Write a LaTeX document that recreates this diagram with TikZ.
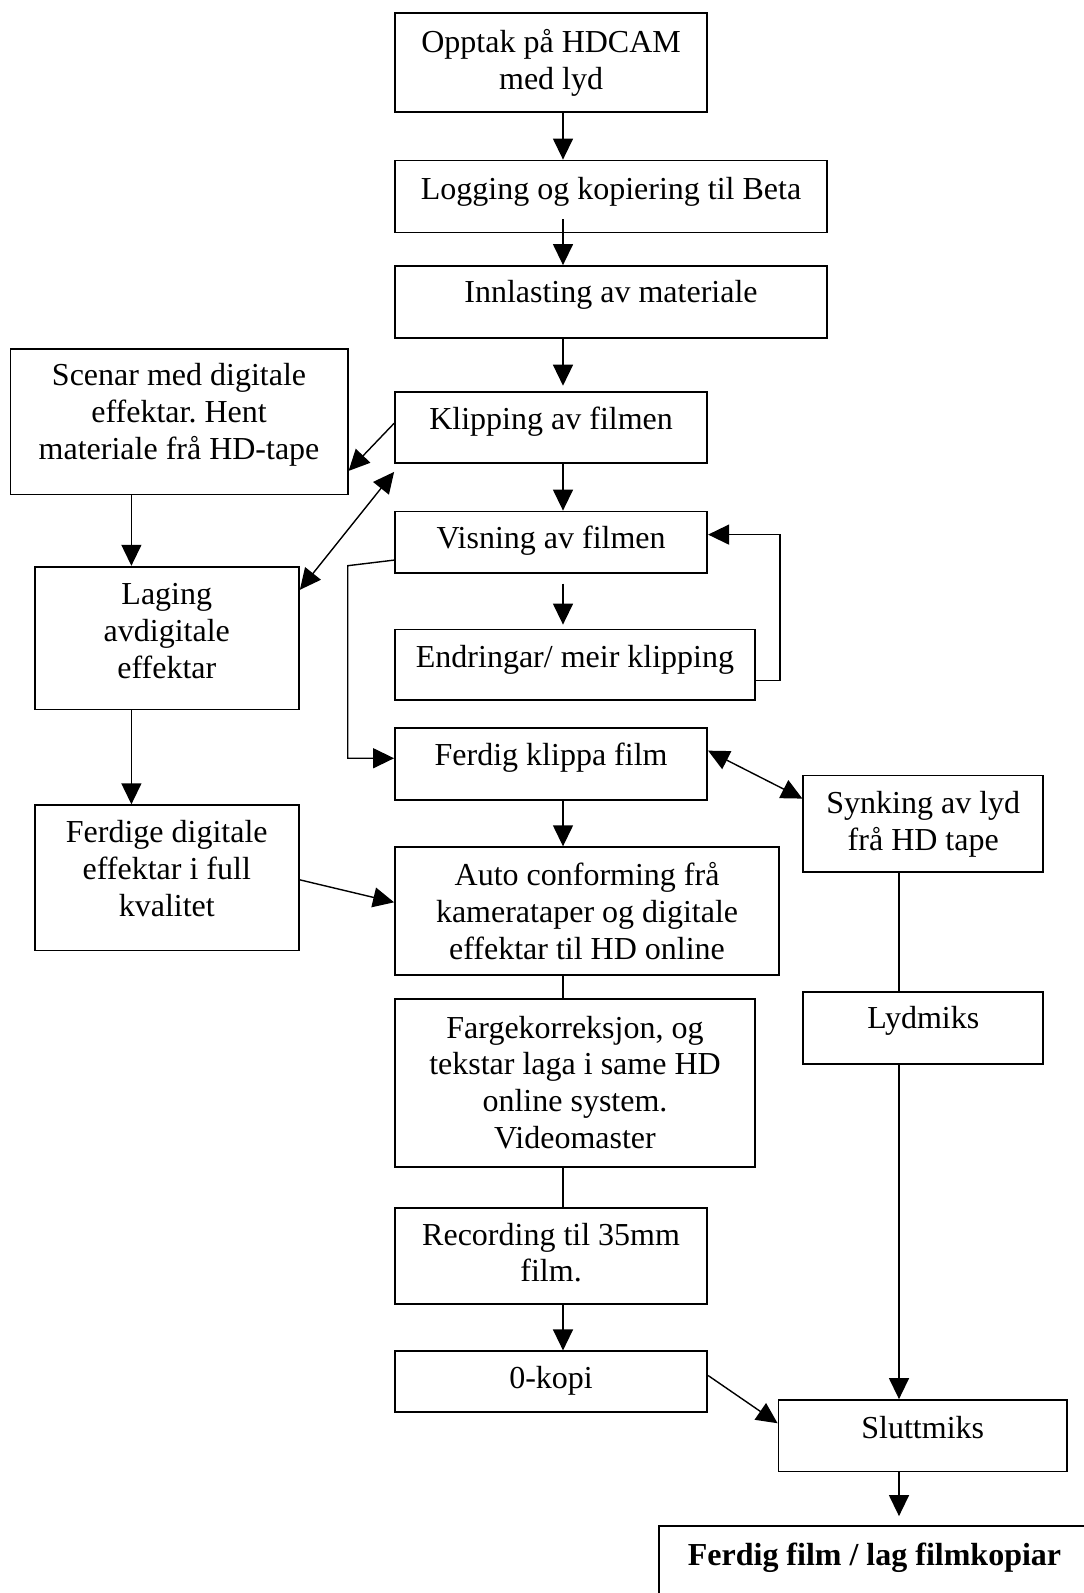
\documentclass[tikz,border=0pt]{standalone}
\usepackage{fontspec}
\setmainfont{Liberation Serif}
\usetikzlibrary{arrows.meta,calc,fit}
\newcommand{\diagfont}{\fontsize{32}{36.8}\selectfont\frenchspacing}
\newcommand{\diagbold}{\fontsize{32}{36.8}\bfseries\selectfont\frenchspacing}
\tikzset{
  box/.style={draw, line width=1.8pt, inner sep=0pt},
  txt/.style={inner sep=0pt, align=flush center, anchor=base, font=\diagfont},
  arr/.style={line width=1.4pt, -{Triangle[length=21pt,width=20pt]}},
  darr/.style={line width=1.4pt, {Triangle[length=21pt,width=20pt]}-{Triangle[length=21pt,width=20pt]}},
  ln/.style={line width=1.4pt}
}
\begin{document}
\begin{tikzpicture}[x=1pt,y=-1pt]
\useasboundingbox (0,0) rectangle (1084,1593);
\clip (0,0) rectangle (1084,1593);
\fill[white] (0,0) rectangle (1084,1593);
% column coordinates
\coordinate (xm) at (563,0);
\coordinate (xl) at (131.4,0);
\coordinate (xr) at (899,0);
% boxes
\node[box, fit={(395,13.3) (707.2,112)}] (op) {};
\node[box, fit={(395,160.5) (827,232.5)}] (log) {};
\node[box, fit={(395,266) (827,338)}] (inn) {};
\node[box, fit={(10.4,349) (347.7,494.5)}] (scen) {};
\node[box, fit={(395,391.6) (707.2,463)}] (klip) {};
\node[box, fit={(395,511.5) (707.2,572.7)}] (vis) {};
\node[box, fit={(395,629.5) (755,700)}] (endr) {};
\node[box, fit={(34.6,566.7) (299,709.4)}] (lag) {};
\node[box, fit={(395,727.7) (707.2,799.6)}] (fkl) {};
\node[box, fit={(803.3,775.5) (1043.2,872)}] (synk) {};
\node[box, fit={(34.6,805.2) (299,950.5)}] (fdig) {};
\node[box, fit={(395,847.2) (779.1,974.6)}] (auto) {};
\node[box, fit={(395,999) (755,1167)}] (farg) {};
\node[box, fit={(803.3,991.8) (1043.2,1064)}] (lyd) {};
\node[box, fit={(395,1207.6) (707.2,1303.8)}] (rec) {};
\node[box, fit={(395,1351.3) (707.2,1412.3)}] (kopi) {};
\node[box, fit={(778.5,1400) (1067,1471.5)}] (slutt) {};
\node[box, fit={(659,1526) (1090,1612)}] (ferd) {};
% texts
\node[txt, text width=312pt] (top) at ($(op.north)+(0,40)$) {Opptak på HDCAM\\med lyd};
\node[txt, text width=432pt] (tlog) at ($(log.north)+(0,39.5)$) {Logging og kopiering til Beta};
\node[txt, text width=432pt] (tinn) at ($(inn.north)+(0,37.5)$) {Innlasting av materiale};
\node[txt, text width=337pt] (tscen) at ($(scen.north)+(0,37.8)$) {Scenar med digitale\\effektar. Hent\\materiale frå HD-tape};
\node[txt, text width=312pt] (tklip) at ($(klip.north)+(0,39)$) {Klipping av filmen};
\node[txt, text width=312pt] (tvis) at ($(vis.north)+(0,38)$) {Visning av filmen};
\node[txt, text width=360pt] (tendr) at ($(endr.north)+(0,38.5)$) {Endringar/ meir klipping};
\node[txt, text width=264pt] (tlag) at ($(lag.north)+(0,39)$) {Laging\\avdigitale\\effektar};
\node[txt, text width=312pt] (tfkl) at ($(fkl.north)+(0,38.5)$) {Ferdig klippa film};
\node[txt, text width=240pt] (tsynk) at ($(synk.north)+(0,39)$) {Synking av lyd\\frå HD tape};
\node[txt, text width=264pt] (tfdig) at ($(fdig.north)+(0,38.5)$) {Ferdige digitale\\effektar i full\\kvalitet};
\node[txt, text width=384pt] (tauto) at ($(auto.north)+(0,39.5)$) {Auto conforming frå\\kamerataper og digitale\\effektar til HD online};
\node[txt, text width=360pt] (tfarg) at ($(farg.north)+(0,40)$) {Fargekorreksjon, og\\tekstar laga i same HD\\online system.\\Videomaster};
\node[txt, text width=240pt] (tlyd) at ($(lyd.north)+(0,38)$) {Lydmiks};
\node[txt, text width=312pt] (trec) at ($(rec.north)+(0,38.3)$) {Recording til 35mm\\film.};
\node[txt, text width=312pt] (tkopi) at ($(kopi.north)+(0,38.1)$) {0-kopi};
\node[txt, text width=288pt] (tslutt) at ($(slutt.north)+(0,39.8)$) {Sluttmiks};
\node[txt, text width=431pt, font=\diagbold] (tferd) at ($(ferd.north)+(0,40)$) {Ferdig film / lag filmkopiar};
% connectors
\draw[arr] (op.south -| xm) -- (log.north -| xm);
\draw[arr] ($(log.south -| xm)+(0,-14)$) -- (inn.north -| xm);
\draw[arr] (inn.south -| xm) -- ($(klip.north -| xm)+(0,-5)$);
\draw[arr] (klip.south -| xm) -- (vis.north -| xm);
\draw[arr] ($(vis.south -| xm)+(0,10)$) -- ($(endr.north -| xm)+(0,-4)$);
\draw[arr] ($(endr.south east)+(0,-20.5)$) -- ++(24,0) |- ($(vis.north east)+(0,24)$);
\draw[arr] ($(klip.west)+(0,-4)$) -- ($(scen.south east)+(0,-24.5)$);
\draw[darr] ($(lag.north east)+(0,24)$) -- ($(klip.south west)+(0,8)$);
\draw[arr] (scen.south -| xl) -- (lag.north -| xl);
\draw[arr] (lag.south -| xl) -- (fdig.north -| xl);
\coordinate (kb) at (347.7,565.7);
\draw[arr] ($(vis.west)+(0,18)$) -- (kb) |- ($(fkl.west)+(0,-5.4)$);
\draw[darr] ($(fkl.east)+(0,-13)$) -- ($(synk.north west)+(0,24)$);
\draw[arr] (fkl.south -| xm) -- (auto.north -| xm);
\draw[arr] ($(fdig.east)+(0,2)$) -- ($(auto.west)+(0,-8.6)$);
\draw[ln] (auto.south -| xm) -- (farg.north -| xm);
\draw[ln] (farg.south -| xm) -- (rec.north -| xm);
\draw[arr] (rec.south -| xm) -- (kopi.north -| xm);
\draw[arr] ($(kopi.east)+(0,-6.3)$) -- ($(slutt.west)+(0,-12.5)$);
\draw[ln] (synk.south -| xr) -- (lyd.north -| xr);
\draw[arr] (lyd.south -| xr) -- (slutt.north -| xr);
\draw[arr] (slutt.south -| xr) -- ($(ferd.north -| xr)+(0,-9)$);
\end{tikzpicture}
\end{document}
